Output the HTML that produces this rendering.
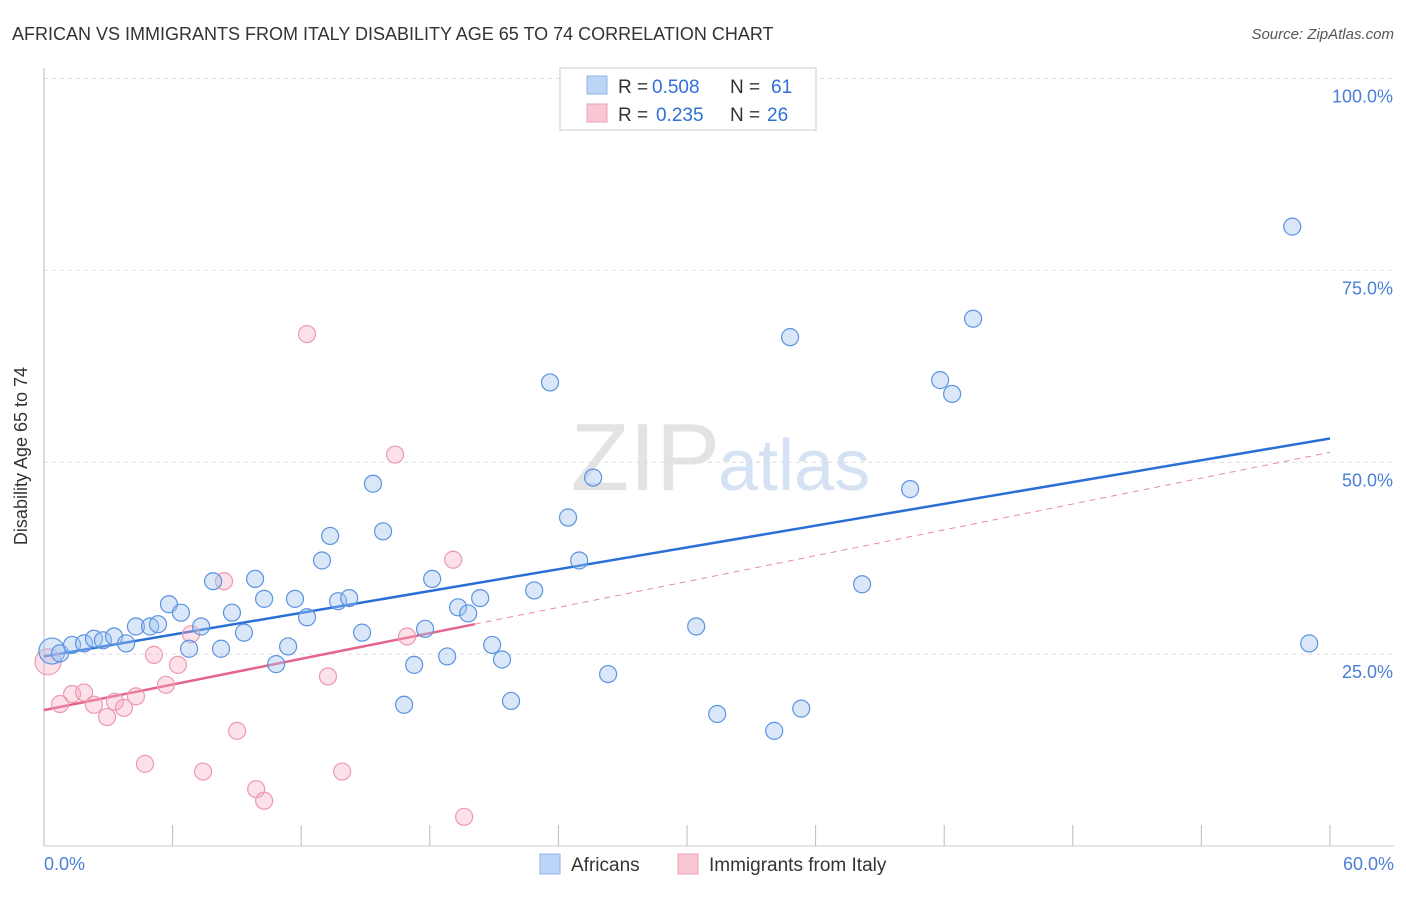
<!DOCTYPE html>
<html><head><meta charset="utf-8"><style>
body{margin:0;background:#fff;font-family:"Liberation Sans",sans-serif}
svg text{font-family:"Liberation Sans",sans-serif}
</style></head><body>
<svg width="1406" height="892" xmlns="http://www.w3.org/2000/svg">
<text x="12" y="40" font-size="18" fill="#333">AFRICAN VS IMMIGRANTS FROM ITALY DISABILITY AGE 65 TO 74 CORRELATION CHART</text>
<text x="1394" y="39" font-size="15" fill="#555" font-style="italic" text-anchor="end">Source: ZipAtlas.com</text>
<text x="720" y="490" font-size="96" fill="#e3e3e3" text-anchor="end" font-family="Liberation Serif">ZIP</text>
<text x="718" y="490" font-size="72" fill="#d5e2f3">atlas</text>
<g id="grid"></g>
<line x1="44" y1="68" x2="44" y2="846" stroke="#bbb"/>
<line x1="44" y1="846" x2="1394" y2="846" stroke="#ccc"/>
<g id="ticks"></g>
<text x="27" y="456" font-size="18" fill="#333" transform="rotate(-90 27 456)" text-anchor="middle">Disability Age 65 to 74</text>
<text x="44" y="870" font-size="18" fill="#4a7fd4">0.0%</text>
<text x="1394" y="870" font-size="18" fill="#4a7fd4" text-anchor="end">60.0%</text>
<g id="lines"></g>
<g id="points"></g>
<g>
<rect x="560" y="68" width="256" height="62" fill="#fff" stroke="#ccc"/>
<rect x="587" y="76" width="20" height="18" fill="#bcd4f5" stroke="#8fb3e8"/>
<rect x="587" y="104" width="20" height="18" fill="#f9c6d4" stroke="#ef9fb6"/>
<text y="93" font-size="19" fill="#333"><tspan x="618">R =</tspan><tspan x="652" fill="#2f6fd8">0.508</tspan><tspan x="730">N =</tspan><tspan x="771" fill="#2f6fd8">61</tspan></text>
<text y="121" font-size="19" fill="#333"><tspan x="618">R =</tspan><tspan x="656" fill="#2f6fd8">0.235</tspan><tspan x="730">N =</tspan><tspan x="767" fill="#2f6fd8">26</tspan></text>
</g>
<g>
<rect x="540" y="854" width="20" height="20" fill="#bcd4f5" stroke="#8fb3e8"/>
<text x="571" y="871" font-size="19" fill="#333">Africans</text>
<rect x="678" y="854" width="20" height="20" fill="#f9c6d4" stroke="#ef9fb6"/>
<text x="709" y="871" font-size="19" fill="#333">Immigrants from Italy</text>
</g>
</svg>
<script>
const yTicks=[25,50,75,100];
const yTickLabels=["25.0%","50.0%","75.0%","100.0%"];
const xTicks=[0,6,12,18,24,30,36,42,48,54,60];
const africanX=[0.37,0.75,1.31,1.87,2.33,2.75,3.27,3.83,4.29,4.95,5.32,5.83,6.39,6.77,7.33,7.89,8.26,8.77,9.33,9.85,10.27,10.83,11.39,11.71,12.27,12.97,13.35,13.72,14.24,14.84,15.35,15.82,16.8,17.27,17.78,18.11,18.81,19.32,19.79,20.35,20.91,21.37,21.79,22.87,23.61,24.45,24.97,25.62,26.32,30.43,31.41,34.07,34.81,35.33,38.17,40.41,41.81,42.37,43.35,58.24,59.03];
const africanY=[25.4,25.1,26.2,26.4,27,26.8,27.3,26.4,28.6,28.6,28.9,31.5,30.4,25.7,28.6,34.5,25.7,30.4,27.8,34.8,32.2,23.7,26,32.2,29.8,37.2,40.4,31.9,32.3,27.8,47.2,41,18.4,23.6,28.3,34.8,24.7,31.1,30.3,32.3,26.2,24.3,18.9,33.3,60.4,42.8,37.2,48,22.4,28.6,17.2,15,66.3,17.9,34.1,46.5,60.7,58.9,68.7,80.7,26.4];
const italyX=[0.19,0.75,1.31,1.87,2.33,2.94,3.31,3.73,4.29,4.71,5.13,5.69,6.25,6.86,7.42,8.4,9.01,9.9,10.27,12.27,13.25,13.91,16.38,16.94,19.09,19.6];
const italyY=[24,18.5,19.8,20,18.4,16.8,18.8,18,19.5,10.7,24.9,21,23.6,27.6,9.7,34.5,15,7.4,5.9,66.7,22.1,9.7,51,27.3,37.3,3.8];
const africanFit=[24.7,53.1];
const italyFit=[17.7,28.9,51.3];
const NS="http://www.w3.org/2000/svg";
const X=v=>44+v*21.433, Y=v=>846-v*7.675;
function mk(t,a,p){const e=document.createElementNS(NS,t);for(const k in a)e.setAttribute(k,a[k]);p.appendChild(e);return e;}
const grid=document.getElementById('grid'),ticks=document.getElementById('ticks');
yTicks.forEach((v,i)=>{
 const l=mk('line',{x1:44,x2:1394,y1:Y(v),y2:Y(v),stroke:'#ddd','stroke-dasharray':'4,4'},grid);
 
 
 const t=mk('text',{x:1393,y:Y(v)+24,'font-size':18,fill:'#4a7fd4','text-anchor':'end'},grid);
 t.textContent=yTickLabels[i];
 
 
});
xTicks.forEach(v=>{
 const l=mk('line',{x1:X(v),x2:X(v),y1:825,y2:846,stroke:'#bbb'},ticks);
 
 
});
const pts=document.getElementById('points');
function dots(xs,ys,fill,stroke,name){xs.forEach((x,i)=>{
 const c=mk('circle',{cx:X(x),cy:Y(ys[i]),r:(i==0?13:8.5),fill:fill,stroke:stroke,'stroke-width':1.2},pts);
 
 
});}
dots(italyX,italyY,'rgba(246,170,192,0.35)','#ec9ab2','italy-point');
dots(africanX,africanY,'rgba(160,196,240,0.4)','#5b93e0','african-point');
const ln=document.getElementById('lines');
let a=mk('line',{x1:X(0),y1:Y(africanFit[0]),x2:X(60),y2:Y(africanFit[1]),stroke:'#2a6fd6','stroke-width':2.5},ln);


let b=mk('line',{x1:X(0),y1:Y(italyFit[0]),x2:X(20.1),y2:Y(italyFit[1]),stroke:'#e4648c','stroke-width':2.5},ln);


let c=mk('line',{x1:X(20.1),y1:Y(italyFit[1]),x2:X(60),y2:Y(italyFit[2]),stroke:'#e88aa6','stroke-width':1,'stroke-dasharray':'6,5'},ln);


</script>
</body></html>
